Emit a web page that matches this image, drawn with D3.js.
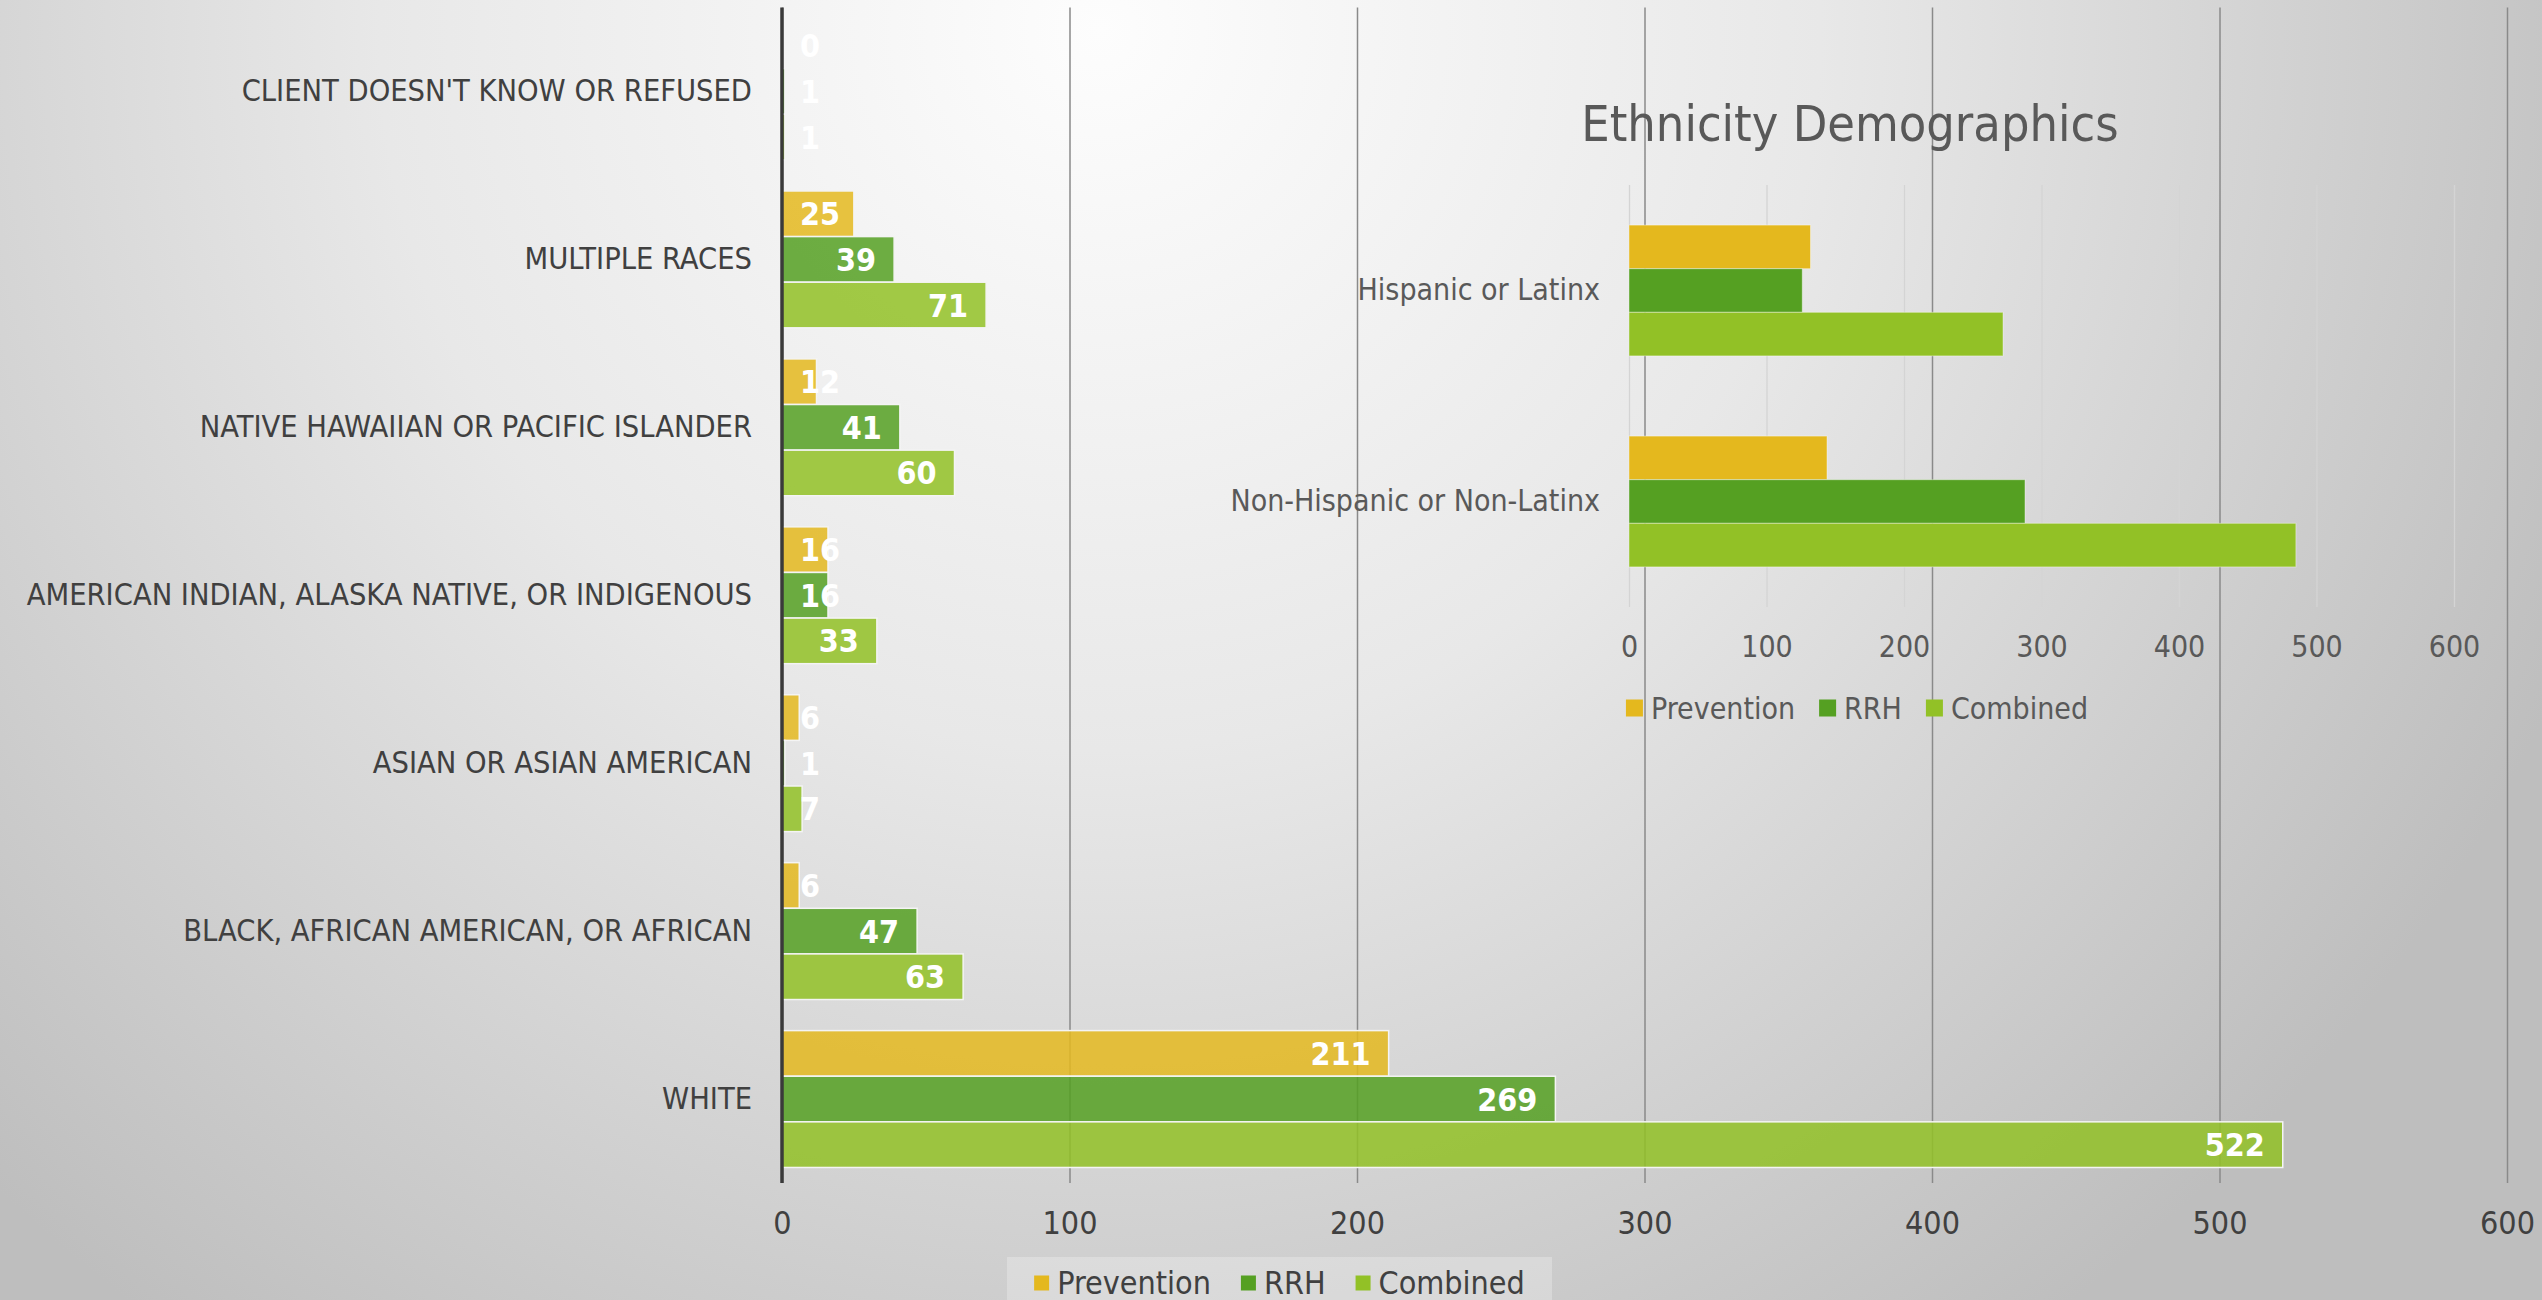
<!DOCTYPE html>
<html>
<head>
<meta charset="utf-8">
<script src="https://cdn.jsdelivr.net/npm/d3@7/dist/d3.min.js"></script>
<style>
  body { margin: 0; overflow: hidden; }
  svg { display: block; }
  text { font-family: "Liberation Sans Narrow", "DejaVu Sans Condensed", "Roboto", sans-serif; }
</style>
</head>
<body>
<svg id="chart" width="2542" height="1300"></svg>
<script>
/* Race chart (big) + ethnicity chart (inset, top right) */

var races = [
    "CLIENT DOESN'T KNOW OR REFUSED",
    "MULTIPLE RACES",
    "NATIVE HAWAIIAN OR PACIFIC ISLANDER",
    "AMERICAN INDIAN, ALASKA NATIVE, OR INDIGENOUS",
    "ASIAN OR ASIAN AMERICAN",
    "BLACK, AFRICAN AMERICAN, OR AFRICAN",
    "WHITE"
];
var prevention = [0, 25, 12, 16, 6, 6, 211];
var rrh        = [1, 39, 41, 16, 1, 47, 269];
var combined   = [1, 71, 60, 33, 7, 63, 522];

var seriesNames  = ["Prevention", "RRH", "Combined"];
var seriesColors = ["#E4B81E", "#55A022", "#92C126"];

var ethnicities   = ["Hispanic or Latinx", "Non-Hispanic or Non-Latinx"];
var ethPrevention = [132, 144];
var ethRrh        = [126, 288];
var ethCombined   = [272, 485];

var xTicks = [0, 100, 200, 300, 400, 500, 600];

var svg = d3.select("#chart");

// background: light spot near top centre, greyer to the edges
var defs = svg.append("defs");
var grad = defs.append("radialGradient").attr("id", "bg")
    .attr("gradientUnits", "userSpaceOnUse")
    .attr("cx", 1100).attr("cy", 30).attr("r", 1600);
grad.append("stop").attr("offset", "0").attr("stop-color", "#fdfdfd");
grad.append("stop").attr("offset", "0.45").attr("stop-color", "#e8e8e8");
grad.append("stop").attr("offset", "1").attr("stop-color", "#bebebe");
svg.append("rect").attr("width", 2542).attr("height", 1300).attr("fill", "url(#bg)");

function rows(a, b, c) {
    return a.map(function (v, i) { return [a[i], b[i], c[i]]; });
}

// legend row centred on cx
function legend(g, cx, cy, box, gap, fontSize, color) {
    var items = g.selectAll("g.item").data(seriesNames).enter().append("g").attr("class", "item");
    items.append("rect").attr("width", box).attr("height", box).attr("y", cy - box / 2)
        .attr("fill", function (d, i) { return seriesColors[i]; });
    var texts = items.append("text").text(function (d) { return d; })
        .attr("x", box + 8).attr("y", cy).attr("dy", "0.35em")
        .attr("font-size", fontSize).attr("fill", color);
    var widths = [];
    texts.each(function () { widths.push(box + 8 + this.getComputedTextLength()); });
    var total = d3.sum(widths) + gap * (widths.length - 1);
    var x0 = cx - total / 2;
    items.attr("transform", function (d, i) {
        var xx = x0 + d3.sum(widths.slice(0, i)) + gap * i;
        return "translate(" + xx + ",0)";
    });
}

/* ---------------- main race chart ---------------- */
var plotTop = 7.5, plotBottom = 1183;
var x = d3.scaleLinear().domain([0, 600]).range([782, 2507]);
var y = d3.scaleBand().domain(races).range([plotTop, plotBottom]).paddingInner(0.185).paddingOuter(0.0925);
var y1 = d3.scaleBand().domain(seriesNames).range([0, y.bandwidth()]);

var xAxis = svg.append("g").attr("transform", "translate(0," + plotBottom + ")")
    .call(d3.axisBottom(x).tickValues(xTicks).tickSize(-(plotBottom - plotTop)).tickPadding(28));
xAxis.select(".domain").remove();
xAxis.selectAll(".tick line").attr("stroke", "#8a8a8a").attr("stroke-width", 1.5);
xAxis.selectAll(".tick text").attr("font-size", 32).attr("fill", "#404040");

var groups = svg.selectAll("g.race").data(rows(prevention, rrh, combined)).enter().append("g")
    .attr("class", "race")
    .attr("transform", function (d, i) { return "translate(0," + y(races[i]) + ")"; });

groups.selectAll("rect").data(function (d) { return d; }).enter().append("rect")
    .attr("x", x(0))
    .attr("y", function (d, j) { return y1(seriesNames[j]); })
    .attr("width", function (d) { return x(d) - x(0); })
    .attr("height", y1.bandwidth())
    .attr("fill", function (d, j) { return seriesColors[j]; })
    .attr("fill-opacity", 0.85)
    .attr("stroke", "#f4f4f4").attr("stroke-width", 1.5);

groups.selectAll("text").data(function (d) { return d; }).enter().append("text")
    .text(function (d) { return d; })
    .attr("y", function (d, j) { return y1(seriesNames[j]) + y1.bandwidth() / 2; })
    .attr("dy", "0.36em")
    .attr("font-size", 32).attr("font-weight", "bold").attr("fill", "#ffffff")
    .attr("x", function (d) {
        var w = this.getComputedTextLength();
        return Math.max(x(0) + 18, x(d) - 18 - w);
    });

// category axis and dark zero line
var yAxis = svg.append("g").attr("transform", "translate(" + x(0) + ",0)")
    .call(d3.axisLeft(y).tickSize(0).tickPadding(30));
yAxis.select(".domain").remove();
yAxis.selectAll(".tick text").attr("font-size", 30.5).attr("fill", "#404040");
svg.append("line").attr("x1", x(0)).attr("x2", x(0)).attr("y1", plotTop).attr("y2", plotBottom)
    .attr("stroke", "#3a3a3a").attr("stroke-width", 3.5);

// legend with a faint box
svg.append("rect").attr("x", 1007).attr("y", 1257).attr("width", 545).attr("height", 50)
    .attr("fill", "#ffffff").attr("fill-opacity", 0.25);
legend(svg.append("g"), 1279.5, 1283, 15, 30, 32, "#404040");

/* ---------------- inset ethnicity chart ---------------- */
var inset = svg.append("g");
var eTop = 185, eBottom = 607;
var x2 = d3.scaleLinear().domain([0, 600]).range([1629, 2454]);
var y2 = d3.scaleBand().domain(ethnicities).range([eTop, eBottom]).paddingInner(0.38).paddingOuter(0.19);
var y3 = d3.scaleBand().domain(seriesNames).range([0, y2.bandwidth()]);

inset.append("text").text("Ethnicity Demographics")
    .attr("x", 1850).attr("y", 141).attr("text-anchor", "middle")
    .attr("font-size", 50).attr("fill", "#595959");

var x2Axis = inset.append("g").attr("transform", "translate(0," + eBottom + ")")
    .call(d3.axisBottom(x2).tickValues(xTicks).tickSize(-(eBottom - eTop)).tickPadding(29));
x2Axis.select(".domain").remove();
x2Axis.selectAll(".tick line").attr("stroke", "#d4d4d4").attr("stroke-width", 1.3);
x2Axis.selectAll(".tick text").attr("font-size", 30).attr("fill", "#595959");

var eGroups = inset.selectAll("g.eth").data(rows(ethPrevention, ethRrh, ethCombined)).enter().append("g")
    .attr("class", "eth")
    .attr("transform", function (d, i) { return "translate(0," + y2(ethnicities[i]) + ")"; });

eGroups.selectAll("rect").data(function (d) { return d; }).enter().append("rect")
    .attr("x", x2(0))
    .attr("y", function (d, j) { return y3(seriesNames[j]); })
    .attr("width", function (d) { return x2(d) - x2(0); })
    .attr("height", y3.bandwidth())
    .attr("fill", function (d, j) { return seriesColors[j]; })
    .attr("stroke", "#ffffff").attr("stroke-opacity", 0.4).attr("stroke-width", 1);

var y2Axis = inset.append("g").attr("transform", "translate(" + x2(0) + ",0)")
    .call(d3.axisLeft(y2).tickSize(0).tickPadding(29));
y2Axis.select(".domain").remove();
y2Axis.selectAll(".tick text").attr("font-size", 30).attr("fill", "#595959");

legend(inset.append("g"), 1857, 708, 17, 24, 30, "#595959");
</script>
</body>
</html>
